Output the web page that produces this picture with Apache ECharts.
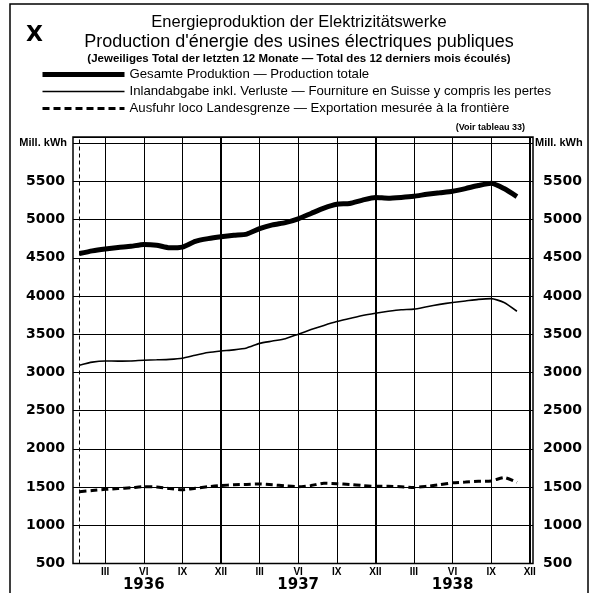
<!DOCTYPE html>
<html>
<head>
<meta charset="utf-8">
<script src="https://cdn.jsdelivr.net/npm/echarts@6/dist/echarts.min.js"></script>
<style>html,body{margin:0;padding:0;background:#fff}#c{width:598px;height:593px}</style>
</head>
<body>
<div id="c"></div>
<script>
// Months Jan 1936 .. Nov 1938
const months = ['1936-01','1936-02','1936-03','1936-04','1936-05','1936-06','1936-07','1936-08','1936-09','1936-10','1936-11','1936-12',
  '1937-01','1937-02','1937-03','1937-04','1937-05','1937-06','1937-07','1937-08','1937-09','1937-10','1937-11','1937-12',
  '1938-01','1938-02','1938-03','1938-04','1938-05','1938-06','1938-07','1938-08','1938-09','1938-10','1938-11'];
// Gesamte Produktion (Mill. kWh)
const total = [4555,4590,4615,4635,4650,4675,4665,4630,4640,4715,4750,4775,
  4795,4810,4880,4930,4960,5010,5080,5150,5200,5210,5255,5290,
  5280,5290,5305,5330,5350,5370,5405,5445,5475,5405,5300];
// Inlandabgabe inkl. Verluste
const inland = [3095,3135,3150,3148,3150,3160,3165,3170,3185,3225,3260,3280,
  3295,3320,3380,3410,3440,3500,3560,3615,3665,3705,3745,3775,
  3800,3820,3828,3860,3890,3915,3935,3955,3965,3915,3800];
// Ausfuhr loco Landesgrenze
const exportV = [1440,1455,1470,1480,1490,1505,1500,1480,1465,1485,1505,1520,
  1530,1535,1540,1530,1515,1505,1520,1550,1545,1535,1520,1510,
  1510,1505,1495,1510,1530,1555,1565,1575,1580,1625,1560];
const quarterNames = ['III','VI','IX','XII'];
const quarterMonths = [3,6,9,12];
const years = ['1936','1937','1938'];
const yTicks = [500,1000,1500,2000,2500,3000,3500,4000,4500,5000,5500];
const unitLabel = 'Mill. kWh';
const names = ['Gesamte Produktion — Production totale',
  'Inlandabgabe inkl. Verluste — Fourniture en Suisse y compris les pertes',
  'Ausfuhr loco Landesgrenze — Exportation mesurée à la frontière'];

function idx(m){ const [y,mo] = m.split('-').map(Number); return (y-1936)*12 + (mo-1); }
const xs = months.map(idx);
const pairs = arr => arr.map((v,i)=>[xs[i], v]);

// quarter tick positions
const qTicks = [], qLabel = {};
years.forEach((y,yi)=>{ quarterMonths.forEach((m,mi)=>{ const p = yi*12 + m - 1; qTicks.push(p); qLabel[p] = {r: quarterNames[mi], year: mi===1 ? y : null}; }); });

const FONT = 'Liberation Sans, Arial, sans-serif';
const NUMFONT = 'DejaVu Sans, sans-serif';

const vLines = [{xAxis: 0, lineStyle:{type:[4,3], width:1}}].concat(qTicks.map(p => ({xAxis: p, lineStyle:{width: (p%12===11) ? 2 : 1}})));

const seriesWidths = [5, 1.6, 3];
const seriesTypes = ['solid', 'solid', [7,4]];

const chart = echarts.init(document.getElementById('c'), null, {renderer:'canvas'});
chart.setOption({
  animation: false,
  backgroundColor: '#fff',
  title: [
    {text:'X', left: 21, top: 19, textStyle:{fontFamily: NUMFONT, fontSize: 22, fontWeight:'bold', color:'#000'}},
    {text:'Energieproduktion der Elektrizitätswerke', left:'center', top: 9, textStyle:{fontFamily: FONT, fontSize: 16.5, fontWeight:'normal', color:'#000'}},
    {text:"Production d'énergie des usines électriques publiques", left:'center', top: 28, textStyle:{fontFamily: FONT, fontSize: 18, fontWeight:'normal', color:'#000'}},
    {text:'(Jeweiliges Total der letzten 12 Monate — Total des 12 derniers mois écoulés)', left:'center', top: 48, textStyle:{fontFamily: FONT, fontSize: 11.5, fontWeight:'bold', color:'#000'}},
    {text:'(Voir tableau 33)', right: 68, top: 118, textStyle:{fontFamily: FONT, fontSize: 9, fontWeight:'bold', color:'#000'}}
  ],
  legend: {
    orient:'vertical', left: 35, top: 63, itemWidth: 82, itemHeight: 10, itemGap: 4,
    textStyle:{fontFamily: FONT, fontSize: 13.2, color:'#000'},
    itemStyle:{opacity: 0},
    data: names.map((n,i)=>({name: n, itemStyle:{opacity:0}, lineStyle:{color:'#000', width: seriesWidths[i], type: seriesTypes[i]}}))
  },
  grid: {left: 73, right: 65, top: 137, bottom: 28, show: true, borderColor:'#000', borderWidth: 1.5},
  xAxis: {
    type:'value', min: -0.5, max: 35.25,
    axisLine:{show:false}, axisTick:{show:false}, splitLine:{show:false},
    axisLabel:{
      customValues: qTicks, margin: 3,
      formatter: v => { const q = qLabel[Math.round(v)]; if(!q) return ''; return q.year ? '{r|'+q.r+'}\n{y|'+q.year+'}' : '{r|'+q.r+'}'; },
      rich:{
        r:{fontFamily: FONT, fontSize: 10, fontWeight:'bold', color:'#000', lineHeight: 11},
        y:{fontFamily: NUMFONT, fontSize: 15, fontWeight:'bold', color:'#000', lineHeight: 16}
      },
      verticalAlign:'top'
    }
  },
  yAxis: [
    {type:'value', min: 500, max: 6080, interval: 500, position:'left',
     axisLine:{show:false}, axisTick:{show:false},
     splitLine:{show:true, lineStyle:{color:'#000', width:1}},
     axisLabel:{showMaxLabel:false, margin: 6, color:'#000', fontFamily: NUMFONT, fontSize: 14, fontWeight:'bold',
       formatter: v => v===6000 ? '{u|'+unitLabel+'}' : (yTicks.includes(v) ? '{n|'+v+'}' : ''),
       rich:{u:{fontFamily: FONT, fontSize: 11, fontWeight:'bold', color:'#000'},
             n:{fontFamily: NUMFONT, fontSize: 14, fontWeight:'bold', color:'#000', padding:[0,2,0,0]}}}},
    {type:'value', min: 500, max: 6080, interval: 500, position:'right',
     axisLine:{show:false}, axisTick:{show:false}, splitLine:{show:false},
     axisLabel:{showMaxLabel:false, margin: 2, color:'#000', fontFamily: NUMFONT, fontSize: 14, fontWeight:'bold',
       formatter: v => v===6000 ? '{u|'+unitLabel+'}' : (yTicks.includes(v) ? '{n|'+v+'}' : ''),
       rich:{u:{fontFamily: FONT, fontSize: 11, fontWeight:'bold', color:'#000'},
             n:{fontFamily: NUMFONT, fontSize: 14, fontWeight:'bold', color:'#000', padding:[0,0,0,8]}}}}
  ],
  series: [
    {name: names[0], type:'line', data: pairs(total), symbol:'none', smooth: 0.2,
     lineStyle:{color:'#000', width: seriesWidths[0]}, itemStyle:{color:'#000'},
     markLine:{silent:true, symbol:['none','none'], label:{show:false}, lineStyle:{color:'#000', type:'solid', width:1}, data: vLines}},
    {name: names[1], type:'line', data: pairs(inland), symbol:'none', smooth: 0.2,
     lineStyle:{color:'#000', width: seriesWidths[1]}, itemStyle:{color:'#000'}},
    {name: names[2], type:'line', data: pairs(exportV), symbol:'none', smooth: 0.2,
     lineStyle:{color:'#000', width: seriesWidths[2], type: seriesTypes[2]}, itemStyle:{color:'#000'}}
  ],
  graphic: [
    {type:'rect', shape:{x:10, y:4, width:578, height:600}, style:{fill:'none', stroke:'#000', lineWidth:1.5}, silent:true}
  ]
});
</script>
</body>
</html>
